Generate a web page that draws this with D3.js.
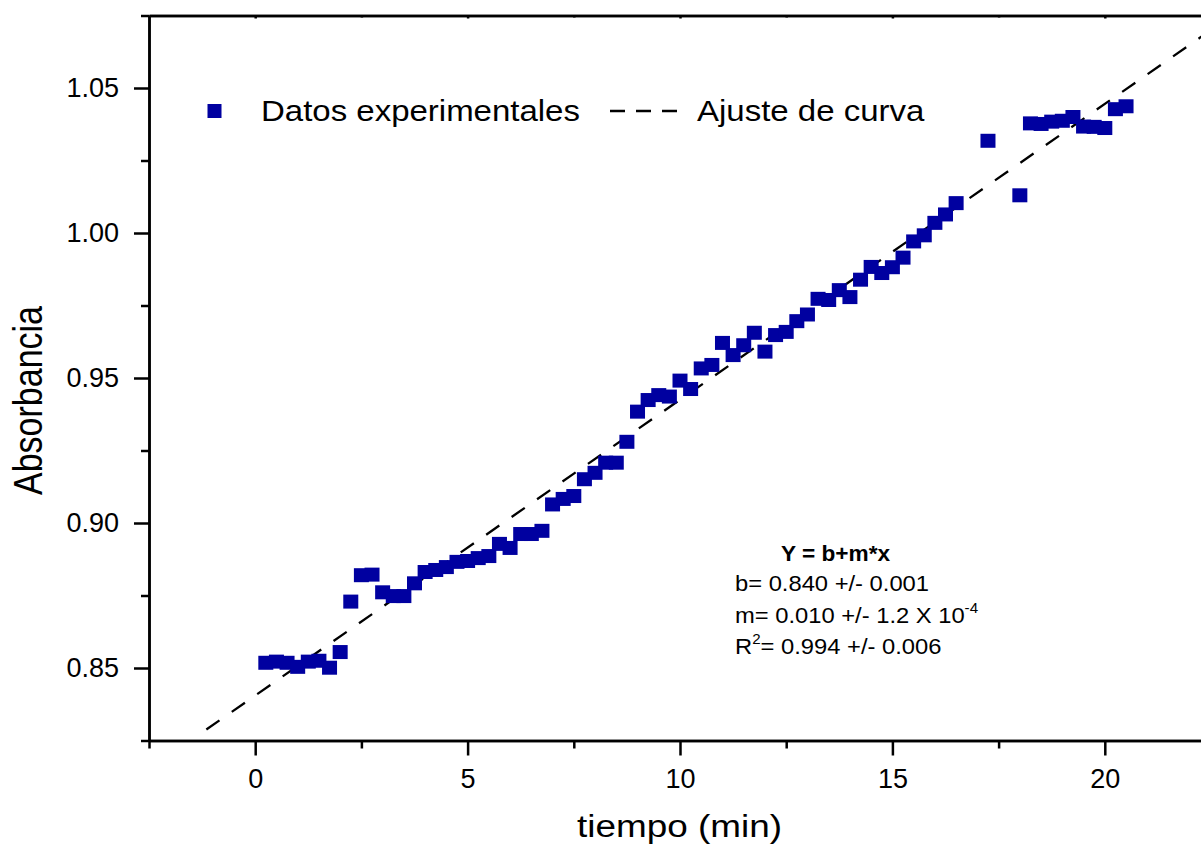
<!DOCTYPE html>
<html>
<head>
<meta charset="utf-8">
<script src="https://cdn.jsdelivr.net/npm/d3@7"></script>
<style>
  body { margin: 0; background: #fff; }
  text { font-family: "Liberation Sans", Arial, sans-serif; fill: #000; }
</style>
</head>
<body>
<svg id="chart" width="1201" height="845"></svg>
<script>
// ---------------- data ----------------
const timeMin = [
  0.25, 0.5, 0.75, 1.0, 1.25, 1.5, 1.75, 2.0, 2.25, 2.5,
  2.75, 3.0, 3.25, 3.5, 3.75, 4.0, 4.25, 4.5, 4.75, 5.0,
  5.25, 5.5, 5.75, 6.0, 6.25, 6.5, 6.75, 7.0, 7.25, 7.5,
  7.75, 8.0, 8.25, 8.5, 8.75, 9.0, 9.25, 9.5, 9.75, 10.0,
  10.25, 10.5, 10.75, 11.0, 11.25, 11.5, 11.75, 12.0, 12.25, 12.5,
  12.75, 13.0, 13.25, 13.5, 13.75, 14.0, 14.25, 14.5, 14.75, 15.0,
  15.25, 15.5, 15.75, 16.0, 16.25, 16.5,
  17.25, 18.0,
  18.25, 18.5, 18.75, 19.0, 19.25, 19.5, 19.75, 20.0, 20.25, 20.5
];
const absorbance = [
  0.8518, 0.8522, 0.8518, 0.8504, 0.8522, 0.8525, 0.8501, 0.8555, 0.8729, 0.8820,
  0.8822, 0.8761, 0.8748, 0.8748, 0.8792, 0.8831, 0.8838, 0.8848, 0.8866, 0.8869,
  0.8879, 0.8886, 0.8928, 0.8914, 0.8962, 0.8962, 0.8973, 0.9064, 0.9083, 0.9093,
  0.9151, 0.9173, 0.9208, 0.9208, 0.9280, 0.9384, 0.9424, 0.9441, 0.9436, 0.9491,
  0.9462, 0.9533, 0.9545, 0.9621, 0.9579, 0.9613, 0.9656, 0.9591, 0.9648, 0.9659,
  0.9696, 0.9719, 0.9773, 0.9769, 0.9803, 0.9779, 0.9839, 0.9883, 0.9862, 0.9882,
  0.9915, 0.9971, 0.9992, 1.0035, 1.0064, 1.0103,
  1.0318, 1.0130,
  1.0378, 1.0376, 1.0384, 1.0387, 1.0400, 1.0367, 1.0366, 1.0362, 1.0427, 1.0437
];
const fitIntercept = 0.8405;
const fitSlope = 0.0102;
const fitXRange = [-1.15, 22.5];

const xDomain = [-2.5, 22.5];
const yDomain = [0.825, 1.075];
const majorXTicks = [0, 5, 10, 15, 20];
const minorXTicks = [-2.5, 2.5, 7.5, 12.5, 17.5, 22.5];
const majorYTicks = [0.85, 0.90, 0.95, 1.00, 1.05];
const minorYTicks = [0.825, 0.875, 0.925, 0.975, 1.025, 1.075];

const xTitle = "tiempo (min)";
const yTitle = "Absorbancia";
const legendLabels = ["Datos experimentales", "Ajuste de curva"];
const eqTitle = "Y = b+m*x";
const eqLineB = "b= 0.840 +/- 0.001";
const eqLineM = ["m= 0.010 +/- 1.2 X 10", "-4"];
const eqLineR = ["R", "2", "= 0.994 +/- 0.006"];

// ---------------- layout ----------------
const svg = d3.select("#chart");
svg.append("rect").attr("width", 1201).attr("height", 845).attr("fill", "#fff");

const plotLeft = 149, plotRight = 1211, plotTop = 15.5, plotBottom = 740.5;
const x = d3.scaleLinear().domain(xDomain).range([plotLeft, plotRight]);
const y = d3.scaleLinear().domain(yDomain).range([plotBottom, plotTop]);
const markerColor = "#0000a0";
const axisWidth = 2.5;

function styleAxis(g) {
  g.selectAll("path.domain").attr("stroke", "#000").attr("stroke-width", axisWidth);
  g.selectAll(".tick line").attr("stroke", "#000").attr("stroke-width", axisWidth);
  g.selectAll(".tick text").attr("font-size", 27).attr("fill", "#000")
    .style("font-family", '"Liberation Sans", Arial, sans-serif');
}

// bottom axis (major + minor)
const gxMinor = svg.append("g").attr("transform", `translate(0,${plotBottom})`)
  .call(d3.axisBottom(x).tickValues(minorXTicks).tickSize(8).tickSizeOuter(0).tickFormat(""));
styleAxis(gxMinor);
const gx = svg.append("g").attr("transform", `translate(0,${plotBottom})`)
  .call(d3.axisBottom(x).tickValues(majorXTicks).tickSize(15).tickSizeOuter(0).tickPadding(13).tickFormat(d3.format("d")));
styleAxis(gx);

// top axis (frame)
const gtMinor = svg.append("g").attr("transform", `translate(0,${plotTop})`)
  .call(d3.axisTop(x).tickValues(minorXTicks).tickSize(-2).tickSizeOuter(0).tickFormat(""));
styleAxis(gtMinor);
const gt = svg.append("g").attr("transform", `translate(0,${plotTop})`)
  .call(d3.axisTop(x).tickValues(majorXTicks).tickSize(-3).tickSizeOuter(0).tickFormat(""));
styleAxis(gt);

// left axis (major + minor)
const gyMinor = svg.append("g").attr("transform", `translate(${plotLeft},0)`)
  .call(d3.axisLeft(y).tickValues(minorYTicks).tickSize(8).tickSizeOuter(0).tickFormat(""));
styleAxis(gyMinor);
const gy = svg.append("g").attr("transform", `translate(${plotLeft},0)`)
  .call(d3.axisLeft(y).tickValues(majorYTicks).tickSize(15).tickSizeOuter(0).tickPadding(15).tickFormat(d3.format(".2f")));
styleAxis(gy);

// fit line
const fitData = fitXRange.map(t => ({ t, a: fitIntercept + fitSlope * t }));
svg.append("path")
  .datum(fitData)
  .attr("d", d3.line().x(d => x(d.t)).y(d => y(d.a)))
  .attr("fill", "none").attr("stroke", "#000")
  .attr("stroke-width", 2.3).attr("stroke-dasharray", "16,15");

// data markers
const points = timeMin.map((t, i) => ({ t, a: absorbance[i] }));
const mw = 15, mh = 14;
svg.append("g").selectAll("rect").data(points).join("rect")
  .attr("x", d => x(d.t) - mw / 2)
  .attr("y", d => y(d.a) - mh / 2)
  .attr("width", mw).attr("height", mh)
  .attr("fill", markerColor);

// stretched text helper
function sText(px, py, sx, str, size, anchor, weight) {
  const g = svg.append("g").attr("transform", `translate(${px},${py}) scale(${sx},1)`);
  return g.append("text").attr("text-anchor", anchor || "start")
    .attr("font-size", size).attr("font-weight", weight || "normal").text(str);
}

// axis titles
sText(679.5, 837, 1.19, xTitle, 31, "middle");
svg.append("g").attr("transform", "translate(42,400.5) scale(1.2,1) rotate(-90)")
  .append("text").attr("text-anchor", "middle").attr("font-size", 34).text(yTitle);

// legend
svg.append("rect").attr("x", 207.5).attr("y", 104).attr("width", 14).attr("height", 14).attr("fill", markerColor);
sText(261, 121, 1.1, legendLabels[0], 30);
svg.append("line").attr("x1", 610).attr("x2", 677).attr("y1", 111).attr("y2", 111)
  .attr("stroke", "#000").attr("stroke-width", 2.3).attr("stroke-dasharray", "15,11");
sText(697, 121, 1.1, legendLabels[1], 30);

// equation annotation
sText(781, 561, 1.03, eqTitle, 22, "start", "bold");
sText(735, 591, 1.08, eqLineB, 22);
const tm = sText(735, 622.5, 1.08, eqLineM[0], 22);
tm.append("tspan").attr("font-size", 14).attr("dy", -10).text(eqLineM[1]);
const tr = sText(735, 654, 1.08, eqLineR[0], 22);
tr.append("tspan").attr("font-size", 14).attr("dy", -10).text(eqLineR[1]);
tr.append("tspan").attr("dy", 10).text(eqLineR[2]);
</script>
</body>
</html>
